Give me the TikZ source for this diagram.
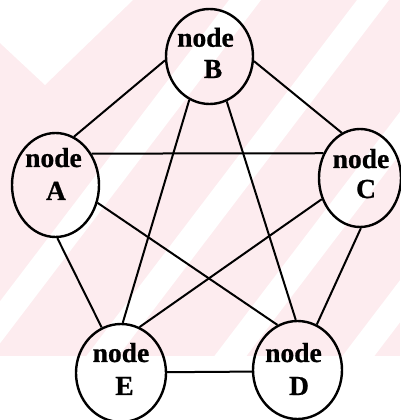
\documentclass[tikz,border=0pt]{standalone}
\usepackage{fontspec}
\setmainfont{Liberation Serif}
\newfontfamily\lblfont{Liberation Serif Bold}[FakeBold=0.8]
\usetikzlibrary{shapes.geometric}
\definecolor{wm}{RGB}{253,236,239}
\begin{document}
\begin{tikzpicture}[x=1pt,y=1pt,
  vtx/.style={draw=black, line width=2.4pt, ellipse, inner sep=0pt},
  lbl/.style={font=\lblfont\fontsize{27.5}{32}\selectfont, anchor=base, inner sep=0pt},
  edge/.style={draw=black, line width=2pt}]
\useasboundingbox (0,0) rectangle (400,420);
% faint watermark
\begin{scope}
  \clip (0,64) rectangle (400,420);
  \fill[wm] (0,64) rectangle (400,420);
  \foreach \c in {229,357,485,613}{
    \fill[white] (\c,420) -- (\c+32,420) -- (\c+32-270.6,64) -- (\c-270.6,64) -- cycle;
  }
  \fill[white] (0,420) -- (133,420) -- (45,335) -- (0,377) -- cycle;
\end{scope}
% vertices
\node[vtx, minimum width=87, minimum height=104] (A) at (55.5,235) {};
\node[vtx, minimum width=87, minimum height=95]  (B) at (209.5,363.5) {};
\node[vtx, minimum width=82, minimum height=98]  (C) at (360,242) {};
\node[vtx, minimum width=90, minimum height=98]  (E) at (121,47) {};
\node[vtx, minimum width=89, minimum height=98]  (D) at (297.5,50) {};
% labels
\node[lbl] (An) at (53.5,253) {node};
\node[lbl] (Al) at (56,220) {A};
\node[lbl] (Bn) at (205.5,373.3) {node};
\node[lbl] (Bl) at (213,342) {B};
\node[lbl] (Cn) at (361,252) {node};
\node[lbl] (Cl) at (366,222) {C};
\node[lbl] (En) at (121,58) {node};
\node[lbl] (El) at (124.5,25) {E};
\node[lbl] (Dn) at (293.5,58) {node};
\node[lbl] (Dl) at (299,25) {D};
% edges
\draw[edge] (A.69.6) -- (B.185.5);
\draw[edge] (B.354.4) -- (C.112.6);
\draw[edge] (A.41.6) -- (C.146.1);
\draw[edge] (B.245.1) -- (E.88.9);
\draw[edge] (B.291.5) -- (D.92.7);
\draw[edge] (A.337.7) -- (D.114.7);
\draw[edge] (C.209.2) -- (E.68.8);
\draw[edge] (A.272) -- (E.113.3);
\draw[edge] (C.271.2) -- (D.67);
\draw[edge] (E.1.6) -- (D.182);
\end{tikzpicture}
\end{document}
